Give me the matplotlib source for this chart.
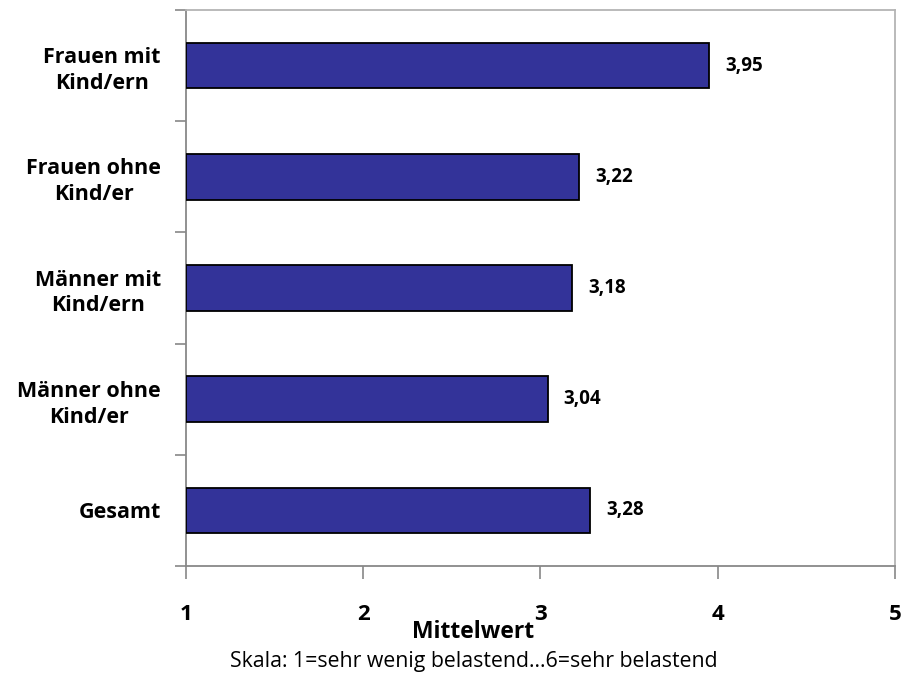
import numpy as np
import matplotlib.pyplot as plt
from matplotlib.ticker import FixedLocator

# data, top to bottom as in the chart
categories = ["Frauen mit\nKind/ern", "Frauen ohne\nKind/er", "Männer mit\nKind/ern",
              "Männer ohne\nKind/er", "Gesamt"]
means = [3.95, 3.22, 3.18, 3.04, 3.28]
value_labels = ["3,95", "3,22", "3,18", "3,04", "3,28"]
x_ticks = [1, 2, 3, 4, 5]

bold_font = ["Open Sans", "DejaVu Sans"]

fig = plt.figure(figsize=(9.04, 6.79), dpi=100)
ax = fig.add_axes([186 / 904, 1 - 566 / 679, (895 - 186) / 904, (566 - 10) / 679])

n = len(categories)
ypos = np.arange(n)[::-1]  # first category on top
base = x_ticks[0]
ax.barh(ypos, np.array(means) - base, left=base, height=0.41,
        color="#333399", edgecolor="black", linewidth=1.3, zorder=3)

for y, v, lab in zip(ypos, means, value_labels):
    ax.text(v + 0.09, y, lab, va="center", ha="left", fontsize=13.5,
            fontweight="bold", family=bold_font)

ax.set_xlim(1, 5)
ax.set_ylim(-0.5, n - 0.5)

# x axis
ax.set_xticks(x_ticks)
ax.set_xticklabels([str(t) for t in x_ticks], fontsize=16, fontweight="bold", family=bold_font)
ax.tick_params(axis="x", direction="out", length=9, width=1.2, color="#888888", pad=18)

# y axis: tick marks between categories, labels at the bar centres
ax.yaxis.set_major_locator(FixedLocator(np.arange(-0.5, n, 1.0)))
ax.yaxis.set_minor_locator(FixedLocator(ypos))
ax.set_yticklabels([], minor=False)
ax.set_yticklabels(categories, minor=True, fontsize=15.5, fontweight="bold",
                   family=bold_font, multialignment="center", linespacing=1.3)
ax.tick_params(axis="y", which="major", direction="out", length=8, width=1.2, color="#888888")
ax.tick_params(axis="y", which="minor", length=0, pad=18)

for s in ["left", "bottom"]:
    ax.spines[s].set_color("#888888")
    ax.spines[s].set_linewidth(1.3)
for s in ["top", "right"]:
    ax.spines[s].set_color("#b4b4b4")
    ax.spines[s].set_linewidth(1.3)

fig.text(473 / 904, 1 - 632 / 679, "Mittelwert", ha="center", va="center",
         fontsize=16.5, fontweight="bold", family=bold_font)
fig.text(474 / 904, 1 - 662 / 679, "Skala: 1=sehr wenig belastend...6=sehr belastend",
         ha="center", va="center", fontsize=15.3, family=bold_font)

fig.savefig("out.png", dpi=100)
